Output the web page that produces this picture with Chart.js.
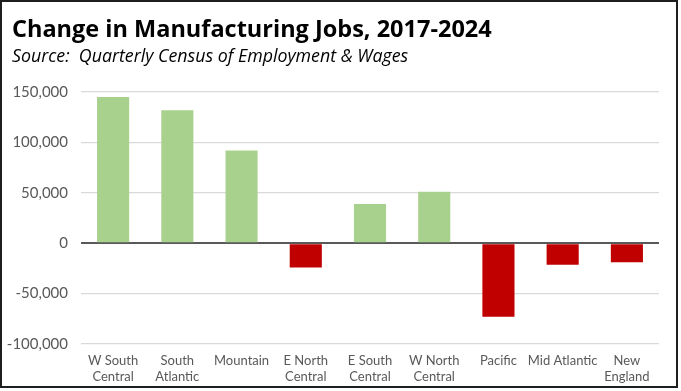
<!DOCTYPE html>
<html>
<head>
<meta charset="utf-8">
<script src="https://cdn.jsdelivr.net/npm/chart.js@4.4.1/dist/chart.umd.min.js"></script>
<style>
  html, body { margin: 0; padding: 0; background: #fff; }
  #frame {
    position: absolute; left: 0; top: 0;
    width: 678px; height: 388px;
    box-sizing: border-box;
    border: 2px solid #1e1e1e;
    background: #fff;
  }
  #chart { position: absolute; left: 0; top: 0; display: block; }
  .head { position: absolute; left: 10px; margin: 0; line-height: 1; white-space: nowrap; color: #000; font-family: 'Open Sans', sans-serif; }
  #title { top: 15px; font-size: 23.5px; font-weight: bold; }
  #sub { top: 45px; font-size: 17.8px; font-style: italic; }
</style>
</head>
<body>
<div id="frame">
  <canvas id="chart" width="674" height="384"></canvas>
  <div class="head" id="title">Change in Manufacturing Jobs, 2017-2024</div>
  <div class="head" id="sub">Source:&nbsp; Quarterly Census of Employment &amp; Wages</div>
</div>
<script>
// regions, left to right as in the picture
const regions = [
    ['W South', 'Central'],
    ['South', 'Atlantic'],
    'Mountain',
    ['E North', 'Central'],
    ['E South', 'Central'],
    ['W North', 'Central'],
    'Pacific',
    'Mid Atlantic',
    ['New', 'England']
];

// change in manufacturing jobs 2017-2024
const jobChange = [145000, 132000, 92000, -24000, 39000, 51000, -73000, -21500, -19000];

// y axis
const yMin = -100000;
const yMax = 150000;
const yStep = 50000;

const GREEN = '#a9d18e';
const RED = '#c00000';
const TEXT = '#595959';

const ctx = document.getElementById('chart');

new Chart(ctx, {
    type: 'bar',
    data: {
        labels: regions,
        datasets: [{
            data: jobChange,
            backgroundColor: c => (c.raw >= 0 ? GREEN : RED),
            borderWidth: 0,
            barPercentage: 0.5,
            categoryPercentage: 1
        }]
    },
    options: {
        responsive: false,
        animation: false,
        layout: { padding: { left: 0, right: 17, top: 90, bottom: 0 } },
        plugins: {
            legend: { display: false },
            tooltip: { enabled: false }
        },
        scales: {
            x: {
                afterFit: s => { s.height = 42; },
                grid: { display: false, drawTicks: false },
                border: { display: false },
                ticks: {
                    color: TEXT,
                    font: { family: 'Lato', size: 13 },
                    padding: 9,
                    maxRotation: 0,
                    autoSkip: false
                }
            },
            y: {
                min: yMin,
                max: yMax,
                afterFit: s => { s.width = 79; },
                grid: {
                    drawTicks: false,
                    color: c => (c.tick && c.tick.value === 0 ? TEXT : '#d9d9d9'),
                    lineWidth: c => (c.tick && c.tick.value === 0 ? 2 : 1.3)
                },
                border: { display: false },
                ticks: {
                    stepSize: yStep,
                    color: TEXT,
                    padding: 13,
                    font: { family: 'Lato', size: 15 },
                    callback: v => v.toLocaleString('en-US')
                }
            }
        }
    }
});
</script>
</body>
</html>
